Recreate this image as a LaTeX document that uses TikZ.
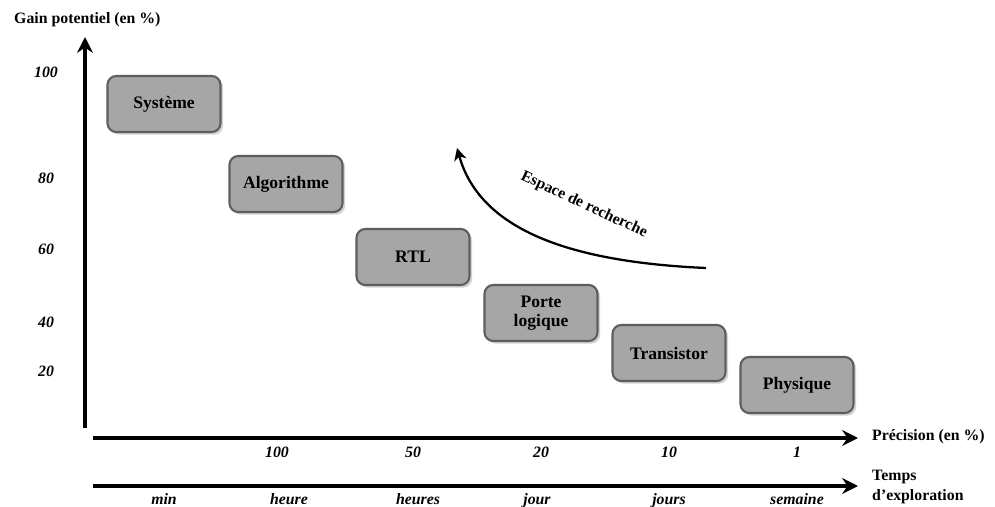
\documentclass[tikz,border=0pt]{standalone}
\usepackage{fontspec}
\setmainfont{Liberation Serif}
\usepackage{tikz}
\usetikzlibrary{arrows.meta,shadows}
\definecolor{boxfill}{HTML}{A6A6A6}
\definecolor{boxline}{HTML}{5E5E5E}

\begin{document}
\begin{tikzpicture}[x=0.02cm, y=-0.02cm,
    level/.style={draw=boxline, line width=1.2pt, fill=boxfill, rounded corners=5pt,
      minimum width=2.26cm, minimum height=1.12cm, align=center,
      font=\fontsize{10}{11}\selectfont\bfseries,
      drop shadow={shadow xshift=1.5pt, shadow yshift=-1.5pt, opacity=0.35}},
    axis/.style={line width=2.3pt, -{Stealth[length=9pt, width=9pt, inset=3pt]}},
    lab/.style={font=\fontsize{9}{11}\selectfont\bfseries},
    val/.style={font=\fontsize{9}{11}\selectfont\bfseries\itshape, anchor=base}]
         \useasboundingbox (0,0) rectangle (995,507);
         % niveaux d'abstraction
         \node [level] (SYS) at (164,104) {Système};
         \node [level] (ALG) at (286,184) {Algorithme};
         \node [level] (RTL) at (413,257) {RTL};
         \node [level] (PL)  at (541,313) {Porte\\logique};
         \node [level] (TR)  at (669,353) {Transistor};
         \node [level] (PHY) at (797,385) {Physique};
         % axes
         \coordinate (O)  at (85,428);
         \coordinate (OT) at (85,37);
         \coordinate (P0) at (93,438);
         \coordinate (P1) at (858,438);
         \coordinate (T0) at (93,486);
         \coordinate (T1) at (858,486);
         \draw [axis] (O) -- (OT);
         \draw [axis] (P0) -- (P1);
         \draw [axis] (T0) -- (T1);
         \node [lab, anchor=west] (GAIN) at (8,20) {Gain potentiel (en \%)};
         \node [lab, anchor=west] (PREC) at (866,437) {Précision (en \%)};
         \node [lab, anchor=west, align=left] (TEMPS) at (866,487) {Temps\\d’exploration};
         % graduations
         \node [val] (G100) at (46,77)  {100};
         \node [val] (G80)  at (46,183) {80};
         \node [val] (G60)  at (46,254) {60};
         \node [val] (G40)  at (46,327) {40};
         \node [val] (G20)  at (46,376) {20};
         \node [val] (P100) at (277,457) {100};
         \node [val] (P50)  at (413,457) {50};
         \node [val] (P20)  at (541,457) {20};
         \node [val] (P10)  at (669,457) {10};
         \node [val] (P1v)  at (797,457) {1};
         \node [val] (Tmin) at (164,504) {min};
         \node [val] (Th)   at (289,504) {heure};
         \node [val] (Ths)  at (418,504) {heures};
         \node [val] (Tj)   at (537,504) {jour};
         \node [val] (Tjs)  at (669,504) {jours};
         \node [val] (Tsem) at (797,504) {semaine};
         % espace de recherche
         \coordinate (E0) at (706,268);
         \coordinate (E1) at (457,148);
         \draw [line width=1.3pt, -{Stealth[length=7pt, width=7pt, inset=2pt]}]
               (E0) .. controls (570,262) and (480,230) .. (E1);
         \node [lab, rotate=-25] (ESP) at (584,205) {Espace de recherche};
\end{tikzpicture}
\end{document}
